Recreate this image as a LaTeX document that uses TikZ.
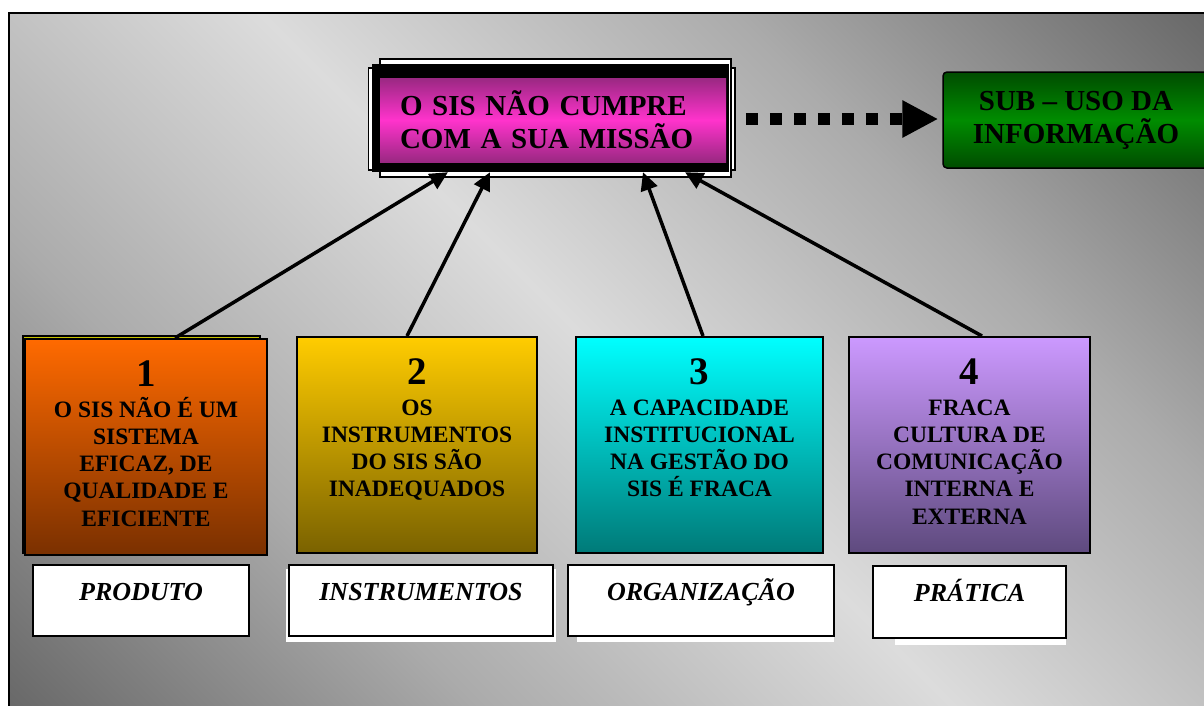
\documentclass[tikz,border=0pt]{standalone}
\usepackage{fontspec}
\setmainfont{Liberation Serif}
\usetikzlibrary{arrows.meta}
\definecolor{gA}{HTML}{686868}
\definecolor{gB}{HTML}{ABABAB}
\definecolor{gC}{HTML}{DCDCDC}
\definecolor{magA}{HTML}{9A2882}
\definecolor{magB}{HTML}{FF33CC}
\definecolor{grA}{HTML}{004C00}
\definecolor{grB}{HTML}{008C00}
\definecolor{cAt}{HTML}{FF6A00}
\definecolor{cAb}{HTML}{7A3000}
\definecolor{cBt}{HTML}{FFCC00}
\definecolor{cBb}{HTML}{7A6200}
\definecolor{cCt}{HTML}{00FFFF}
\definecolor{cCb}{HTML}{007A78}
\definecolor{cDt}{HTML}{CC99FF}
\definecolor{cDb}{HTML}{5E4A7E}
\definecolor{backyel}{HTML}{C8C400}
\pgfdeclareverticalshading{bgsh}{100bp}{color(0bp)=(gA); color(14.6bp)=(gA); color(32.3bp)=(gB); color(50bp)=(gC); color(67.7bp)=(gB); color(85.4bp)=(gA); color(100bp)=(gA)}
\newcommand\ttlfnt{\bfseries\fontsize{29}{33}\selectfont}
\newcommand\numfnt{\bfseries\fontsize{39}{40}\selectfont}
\newcommand\txtfnt{\bfseries\fontsize{23.5}{27.3}\selectfont}
\newcommand\lblfnt{\bfseries\itshape\fontsize{26}{30}\selectfont}
\newcommand\causetext[3]{\parbox[c][216pt][t]{#1}{\centering\numfnt\rule{0pt}{47pt}#2\par\vspace{3.7pt}\txtfnt #3\par}}
\newcommand\lbltext[3]{\parbox[c][#2][t]{#1}{\centering\lblfnt\rule{0pt}{35pt}#3\par}}
\begin{document}
\begin{tikzpicture}[x=1pt,y=-1pt,
  framebox/.style={draw=black, line width=1.8pt, fill=white, inner sep=0pt},
  blackbox/.style={fill=black, inner sep=0pt},
  titlebox/.style={top color=magA, bottom color=magA, middle color=magB, inner ysep=0pt, inner xsep=20pt, text width=306pt, minimum height=84pt, align=left, font=\ttlfnt},
  greenbox/.style={draw=black, line width=1.5pt, top color=grA, bottom color=grA, middle color=grB, rounded corners=4pt, minimum width=266pt, minimum height=96pt, inner sep=0pt, align=center, font=\ttlfnt},
  causebox/.style={draw=black, line width=2pt, inner sep=0pt},
  backbox/.style={draw=black, line width=1.5pt, fill=backyel, inner sep=0pt},
  lblbox/.style={draw=black, line width=1.8pt, fill=white, inner sep=0pt},
  causearrow/.style={line width=3.5pt, -{Triangle[length=18pt,width=17pt]}},
  dotarrow/.style={line width=12pt, dash pattern=on 12pt off 12pt, -{Triangle[length=36pt,width=35pt]}}
]
\fill[white] (0,0) rectangle (1204,705);
\useasboundingbox (0,0) rectangle (1204,705);
\shade[shading=bgsh, shading angle=-45] (9,13) rectangle (1210,712);
\draw[line width=2.5pt] (9,13) rectangle (1210,712);

% main box
\node[framebox, minimum width=366.5pt, minimum height=102pt] (frameA) at (551.75,119) {};
\node[framebox, minimum width=351pt, minimum height=118pt] (frameB) at (555.5,118) {};
\node[blackbox, minimum width=357pt, minimum height=108pt] (main) at (550.5,118) {};
\node[titlebox] (title) at (553,120) {O SIS NÃO CUMPRE\\COM A SUA MISSÃO};

% green box
\node[greenbox] (sub) at (1076,120) {SUB – USO DA\\INFORMAÇÃO};
\draw[dotarrow] ([xshift=10pt]frameA.east) -- ([xshift=-4pt]frameA.east -| sub.west);

% cause boxes
\node[backbox, minimum width=237pt, minimum height=217pt] (b1back) at (141.5,444.5) {};
\node[causebox, top color=cAt, bottom color=cAb] (b1) at (146,447) {\causetext{242pt}{1}{O SIS NÃO É UM\\SISTEMA\\EFICAZ, DE\\QUALIDADE E\\EFICIENTE}};
\node[causebox, top color=cBt, bottom color=cBb] (b2) at (417,445) {\causetext{240pt}{2}{OS\\INSTRUMENTOS\\DO SIS SÃO\\INADEQUADOS}};
\node[causebox, top color=cCt, bottom color=cCb] (b3) at (699.5,445) {\causetext{247pt}{3}{A CAPACIDADE\\INSTITUCIONAL\\NA GESTÃO DO\\SIS É FRACA}};
\node[causebox, top color=cDt, bottom color=cDb] (b4) at (969.5,445) {\causetext{241pt}{4}{FRACA\\CULTURA DE\\COMUNICAÇÃO\\INTERNA E\\EXTERNA}};

% arrows
\draw[causearrow] ([xshift=29pt]b1.north) -- ([xshift=-102.5pt]main.south);
\draw[causearrow] ([xshift=-10pt]b2.north) -- ([xshift=-60.5pt]main.south);
\draw[causearrow] ([xshift=3.5pt]b3.north) -- ([xshift=92.5pt]main.south);
\draw[causearrow] ([xshift=12.5pt]b4.north) -- ([xshift=134.5pt]main.south);

% labels
\fill[white] (286,569) rectangle (556,642);
\fill[white] (577,570) rectangle (834,642);
\fill[white] (895,570) rectangle (1066,645);
\node[lblbox] (l1) at (141,600.5) {\lbltext{216pt}{71pt}{PRODUTO}};
\node[lblbox] (l2) at (421,600.5) {\lbltext{264pt}{71pt}{INSTRUMENTOS}};
\node[lblbox] (l3) at (701,600.5) {\lbltext{266pt}{71pt}{ORGANIZAÇÃO}};
\node[lblbox] (l4) at (969.5,602) {\lbltext{193pt}{72pt}{PRÁTICA}};
\end{tikzpicture}
\end{document}
